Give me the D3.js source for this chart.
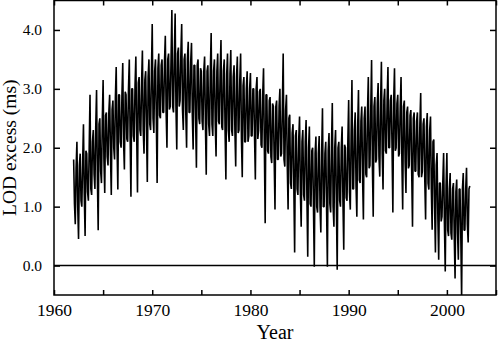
<!DOCTYPE html>
<html>
<head>
<meta charset="utf-8">
<script src="https://cdn.jsdelivr.net/npm/d3@7"></script>
<style>
  body { margin: 0; background: #fff; }
  text { font-family: "Liberation Serif", "Times New Roman", serif; fill: #000; }
</style>
</head>
<body>
<div id="chart"></div>
<script>
// LOD excess (ms): 12 samples per year starting 1962.0
// (peaks, troughs and core values of the dense band)
const startYear = 1962;
const perYear = 12;
const lod = [
  1.8, 1.05, 0.7, 1.65, 2.1, 1.0, 0.45, 1.7, 1.9, 1.1, 1.0, 1.75,        // 1962
  2.4, 1.2, 0.5, 1.95, 1.9, 1.25, 1.1, 2.0, 2.9, 1.3, 1.2, 2.1,          // 1963
  2.3, 1.55, 1.3, 2.35, 2.98, 1.5, 0.6, 2.4, 2.5, 1.6, 1.4, 2.45,        // 1964
  3.15, 1.8, 1.23, 2.55, 2.6, 1.85, 1.7, 2.6, 2.9, 1.9, 1.2, 2.65,       // 1965
  2.8, 2.0, 1.8, 2.85, 3.37, 2.05, 1.29, 2.9, 2.9, 2.1, 2.0, 2.9,        // 1966
  3.44, 2.1, 1.63, 2.95, 2.9, 2.15, 2.1, 3.0, 3.5, 2.2, 1.17, 3.0,       // 1967
  3.0, 2.2, 2.1, 3.05, 3.55, 2.25, 1.24, 3.1, 3.2, 2.3, 2.2, 3.1,        // 1968
  3.65, 2.3, 1.9, 3.15, 3.3, 2.35, 1.42, 3.2, 3.5, 2.4, 2.3, 3.25,       // 1969
  4.1, 2.5, 2.25, 3.3, 3.5, 2.5, 1.4, 3.35, 3.6, 2.55, 2.5, 3.4,         // 1970
  3.5, 2.6, 2.6, 3.45, 3.9, 2.6, 2.0, 3.5, 3.6, 2.65, 2.7, 3.5,          // 1971
  4.34, 2.7, 2.6, 3.55, 4.28, 2.7, 1.97, 3.6, 3.7, 2.7, 2.8, 3.6,        // 1972
  4.1, 2.65, 2.3, 3.5, 3.6, 2.6, 2.0, 3.5, 3.8, 2.6, 2.6, 3.45,          // 1973
  3.78, 2.55, 1.97, 3.4, 3.4, 2.5, 1.66, 3.4, 3.5, 2.5, 2.4, 3.35,       // 1974
  3.3, 2.45, 2.3, 3.3, 3.55, 2.4, 1.54, 3.3, 3.4, 2.4, 2.2, 3.3,         // 1975
  3.95, 2.4, 2.2, 3.3, 3.5, 2.4, 1.85, 3.3, 3.6, 2.45, 2.4, 3.3,         // 1976
  3.83, 2.35, 2.3, 3.3, 3.5, 2.3, 1.46, 3.25, 3.6, 2.3, 2.1, 3.25,       // 1977
  3.66, 2.3, 2.2, 3.2, 3.4, 2.3, 1.68, 3.2, 3.55, 2.25, 2.3, 3.15,       // 1978
  3.6, 2.15, 1.5, 3.05, 3.2, 2.1, 2.1, 3.0, 3.3, 2.1, 2.2, 3.0,          // 1979
  3.27, 2.2, 2.2, 3.0, 3.0, 2.2, 1.46, 3.0, 3.2, 2.15, 2.3, 2.95,        // 1980
  3.0, 2.05, 2.0, 2.9, 3.35, 2.0, 0.72, 2.9, 2.9, 1.95, 1.9, 2.8,        // 1981
  2.86, 1.85, 1.74, 2.75, 2.7, 1.8, 0.95, 2.7, 2.8, 1.8, 1.8, 2.7,       // 1982
  3.0, 1.85, 1.9, 2.7, 3.6, 1.8, 1.68, 2.65, 2.9, 1.7, 0.95, 2.5,        // 1983
  2.56, 1.4, 1.3, 2.25, 2.4, 1.35, 0.22, 2.2, 2.3, 1.3, 1.2, 2.15,       // 1984
  2.53, 1.25, 0.66, 2.1, 2.3, 1.2, 1.1, 2.1, 2.47, 1.15, 0.15, 2.0,      // 1985
  2.36, 1.05, 1.0, 1.95, 2.0, 1.0, -0.02, 1.9, 2.19, 1.0, 0.9, 1.9,      // 1986
  2.2, 1.0, 0.56, 1.9, 2.67, 1.0, 1.0, 1.9, 2.1, 1.0, -0.02, 1.95,       // 1987
  2.25, 1.05, 0.9, 2.0, 2.76, 1.0, 0.66, 2.0, 2.3, 1.05, -0.07, 2.0,     // 1988
  2.1, 1.1, 1.0, 2.0, 2.36, 1.1, 0.27, 2.05, 2.0, 1.15, 1.1, 2.1,        // 1989
  2.81, 1.25, 0.95, 2.2, 3.15, 1.3, 1.3, 2.3, 2.6, 1.35, 0.83, 2.35,     // 1990
  2.98, 1.45, 1.4, 2.45, 2.7, 1.5, 0.78, 2.5, 2.7, 1.55, 1.5, 2.6,       // 1991
  3.2, 1.65, 1.7, 2.65, 3.49, 1.7, 0.83, 2.7, 2.86, 1.75, 1.8, 2.75,     // 1992
  3.1, 1.85, 1.51, 2.75, 3.46, 1.9, 1.29, 2.8, 3.0, 1.95, 1.9, 2.8,      // 1993
  3.37, 2.0, 2.0, 2.8, 2.9, 2.0, 0.9, 2.8, 3.35, 1.95, 2.0, 2.75,        // 1994
  2.9, 1.85, 1.9, 2.7, 3.2, 1.8, 0.95, 2.7, 2.8, 1.75, 1.23, 2.6,        // 1995
  2.7, 1.65, 1.7, 2.55, 2.64, 1.6, 0.66, 2.5, 2.6, 1.6, 1.6, 2.45,       // 1996
  2.6, 1.55, 1.5, 2.4, 2.93, 1.5, 1.6, 2.4, 2.5, 1.45, 0.78, 2.35,       // 1997
  2.59, 1.4, 1.29, 2.3, 2.53, 1.3, 0.61, 2.1, 2.14, 1.0, 0.22, 1.7,      // 1998
  1.91, 0.8, 0.1, 1.4, 1.4, 0.75, 0.83, 1.4, 1.91, 0.7, -0.1, 1.35,      // 1999
  1.91, 0.6, 0.5, 1.3, 1.57, 0.55, 0.44, 1.3, 1.4, 0.5, -0.22, 1.25,     // 2000
  1.46, 0.55, 0.1, 1.3, 1.3, 0.5, -0.55, 1.3, 1.57, 0.6, 0.6, 1.3,       // 2001
  1.66, 0.7, 0.39, 1.3, 1.35                                             // 2002
];

const xTicks = [1960, 1965, 1970, 1975, 1980, 1985, 1990, 1995, 2000, 2005];
const xLabelYears = [1960, 1970, 1980, 1990, 2000];
const yTicks = [0, 1, 2, 3, 4];

const width = 498;
const height = 343;
const plot = { left: 54, right: 496, top: 0.5, bottom: 295 };
const serif = '"Liberation Serif", "Times New Roman", serif';

const x = d3.scaleLinear().domain([1960, 2005]).range([plot.left, plot.right]);
const y = d3.scaleLinear().domain([-0.5, 4.5]).range([plot.bottom, plot.top]);

const svg = d3.select("#chart")
  .append("svg")
  .attr("width", width)
  .attr("height", height)
  .attr("viewBox", [0, 0, width, height]);

svg.append("defs").append("clipPath")
  .attr("id", "clip")
  .append("rect")
  .attr("x", plot.left)
  .attr("y", plot.top)
  .attr("width", plot.right - plot.left)
  .attr("height", plot.bottom - plot.top);

// the series
const line = d3.line()
  .x((d, i) => x(startYear + i / perYear))
  .y((d) => y(d));

svg.append("path")
  .datum(lod)
  .attr("clip-path", "url(#clip)")
  .attr("fill", "none")
  .attr("stroke", "#000")
  .attr("stroke-width", 1.6)
  .attr("stroke-linejoin", "bevel")
  .attr("d", line);

// zero line
svg.append("line")
  .attr("x1", plot.left).attr("x2", plot.right)
  .attr("y1", y(0)).attr("y2", y(0))
  .attr("stroke", "#000")
  .attr("stroke-width", 1.5);

// axes, ticks pointing inward
function styleAxis(g) {
  g.attr("font-family", serif);
  g.select(".domain").remove();
  g.selectAll(".tick line").attr("stroke", "#000").attr("stroke-width", 1.5);
  g.selectAll(".tick text").attr("fill", "#000");
}

svg.append("g")
  .attr("transform", `translate(0,${plot.bottom})`)
  .call(d3.axisBottom(x).tickValues(xTicks).tickSize(-5).tickPadding(8)
    .tickFormat((d) => (xLabelYears.includes(d) ? d : "")))
  .call(styleAxis)
  .call((g) => g.selectAll("text").attr("font-size", 17.5).attr("dy", "0.75em"));

svg.append("g")
  .attr("transform", `translate(0,${plot.top})`)
  .call(d3.axisTop(x).tickValues(xTicks).tickSize(-5).tickFormat(""))
  .call(styleAxis);

svg.append("g")
  .attr("transform", `translate(${plot.left},0)`)
  .call(d3.axisLeft(y).tickValues(yTicks).tickSize(-6).tickPadding(12)
    .tickFormat(d3.format(".1f")))
  .call(styleAxis)
  .call((g) => g.selectAll("text").attr("font-size", 15.5));

svg.append("g")
  .attr("transform", `translate(${plot.right},0)`)
  .call(d3.axisRight(y).tickValues(yTicks).tickSize(-6).tickFormat(""))
  .call(styleAxis);

// frame
svg.append("rect")
  .attr("x", plot.left)
  .attr("y", plot.top)
  .attr("width", plot.right - plot.left)
  .attr("height", plot.bottom - plot.top)
  .attr("fill", "none")
  .attr("stroke", "#000")
  .attr("stroke-width", 1.5);

// axis titles
svg.append("text")
  .attr("x", (plot.left + plot.right) / 2)
  .attr("y", 339)
  .attr("text-anchor", "middle")
  .attr("font-size", 20)
  .text("Year");

svg.append("text")
  .attr("transform", `translate(16,${(plot.top + plot.bottom) / 2}) rotate(-90)`)
  .attr("text-anchor", "middle")
  .attr("font-size", 19.5)
  .text("LOD excess (ms)");
</script>
</body>
</html>
